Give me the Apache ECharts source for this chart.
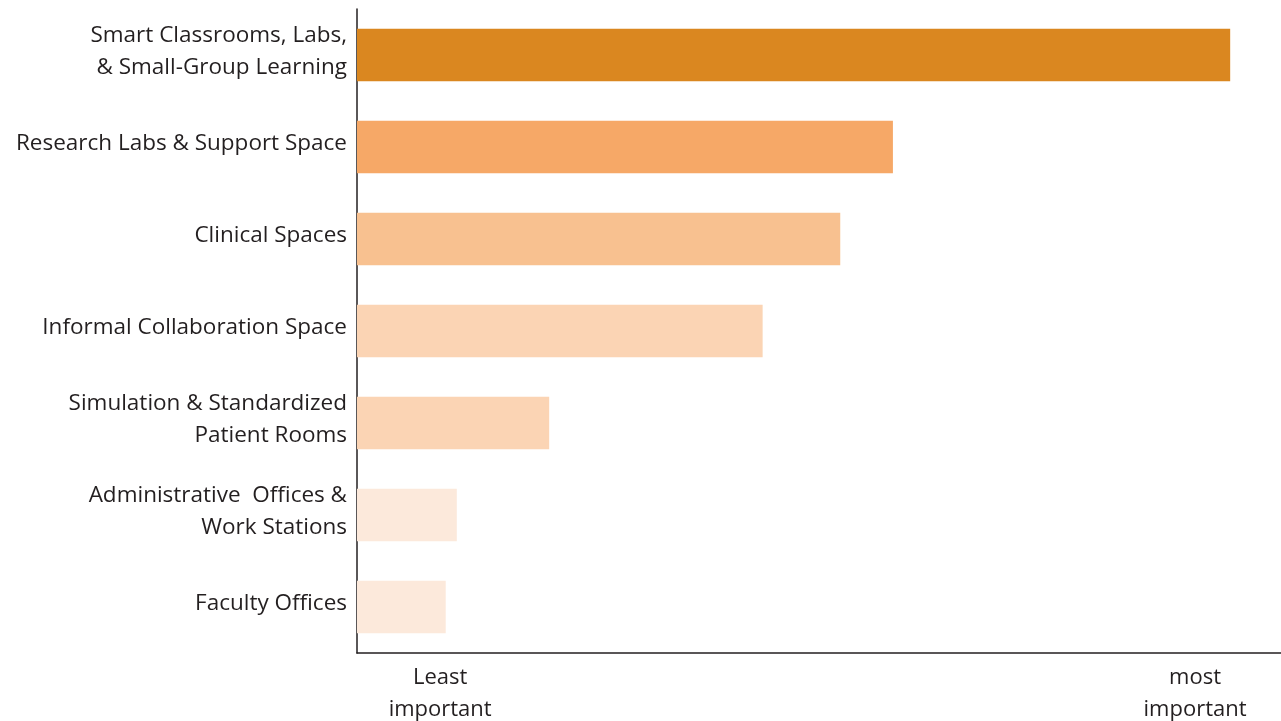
<!DOCTYPE html>
<html>
<head>
<meta charset="utf-8">
<script src="https://cdn.jsdelivr.net/npm/echarts@6/dist/echarts.min.js"></script>
<style>
  html, body { margin: 0; padding: 0; background: #ffffff; }
  #chart { width: 1281px; height: 721px; }
</style>
</head>
<body>
<div id="chart"></div>
<script>
// Space types, listed top to bottom
const categories = [
  'Smart Classrooms, Labs,\n& Small-Group Learning',
  'Research Labs & Support Space',
  'Clinical Spaces',
  'Informal Collaboration Space',
  'Simulation & Standardized\nPatient Rooms',
  'Administrative  Offices &\nWork Stations',
  'Faculty Offices'
];

// Relative importance score for each space type
const importance = [94.5, 58.0, 52.3, 43.9, 20.8, 10.8, 9.6];

// Bar fills, darker for higher importance
const barColors = ['#DA8720', '#F6A867', '#F8C190', '#FBD4B4', '#FBD4B4', '#FCE9DB', '#FCE9DB'];

// Scale end labels on the horizontal axis
const scaleLabelValues = [9, 90.7];
const scaleLabelTexts = ['Least\nimportant', 'most\nimportant'];

const chart = echarts.init(document.getElementById('chart'), null, { renderer: 'canvas' });

const textColor = '#231F20';
const fontFamily = '"Open Sans", sans-serif';

chart.setOption({
  animation: false,
  backgroundColor: '#ffffff',
  grid: { left: 357, right: 0, top: 9, bottom: 68, containLabel: false, outerBoundsMode: 'none' },
  xAxis: {
    type: 'value',
    min: 0,
    max: 100,
    axisLine: { show: true, lineStyle: { color: textColor, width: 1.5 } },
    axisTick: { show: false },
    splitLine: { show: false },
    axisLabel: {
      customValues: scaleLabelValues,
      formatter: function (v) {
        const i = scaleLabelValues.indexOf(v);
        return i >= 0 ? scaleLabelTexts[i] : '';
      },
      color: textColor,
      fontFamily: fontFamily,
      fontSize: 22,
      lineHeight: 32,
      margin: 9,
      align: 'center',
      verticalAlign: 'top'
    }
  },
  yAxis: {
    type: 'category',
    data: categories,
    inverse: true,
    axisLine: { show: true, lineStyle: { color: textColor, width: 1.5 } },
    axisTick: { show: false },
    axisLabel: {
      margin: 10,
      align: 'right',
      // each line goes through a rich style so the block sits a little high
      formatter: function (name) {
        return name.split('\n').map(function (line) { return '{t|' + line + '}'; }).join('\n');
      },
      rich: {
        t: {
          color: textColor,
          fontFamily: fontFamily,
          fontSize: 22.5,
          lineHeight: 32,
          padding: [0, 0, 6, 0]
        }
      }
    }
  },
  series: [{
    type: 'bar',
    barCategoryGap: '43%',
    data: importance.map(function (v, i) {
      return { value: v, itemStyle: { color: barColors[i] } };
    })
  }]
});
</script>
</body>
</html>
